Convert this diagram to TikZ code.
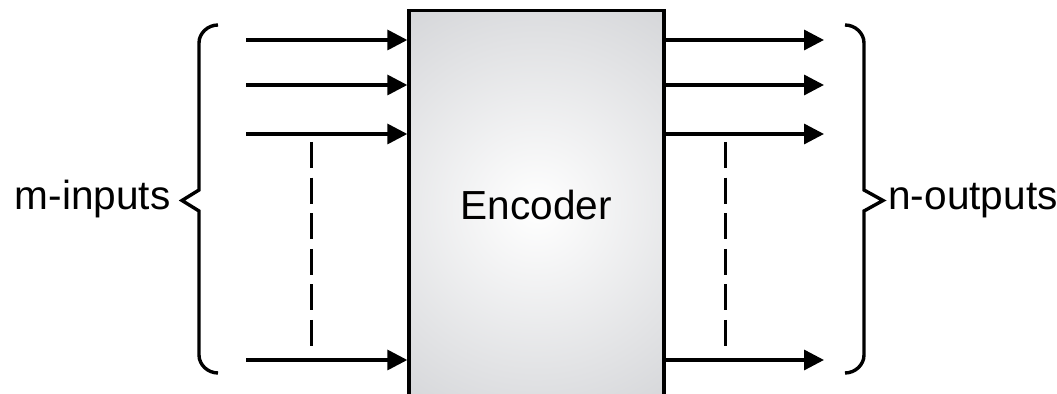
\documentclass[tikz,border=0pt]{standalone}
\usepackage{fontspec}
\setmainfont{Liberation Sans}
\usetikzlibrary{arrows.meta}

\definecolor{boxgray}{RGB}{184,186,191}

\tikzset{
  sig/.style={line width=1.7pt,-{Triangle[length=10pt,width=10pt]}},
  dots/.style={line width=1.7pt,dash pattern=on 13pt off 4.8pt},
  brace/.style={line width=1.7pt,line join=miter},
  lbl/.style={inner sep=0pt,font=\fontsize{20.3}{24}\selectfont},
  encbox/.style={draw,line width=1.7pt,inner sep=0pt,
    minimum width=127.5pt,minimum height=197.75pt,text depth=3pt,
    path picture={\shade[inner color=white,outer color=boxgray]
      (path picture bounding box.center) circle[radius=200pt];}}
}

\begin{document}
\begin{tikzpicture}[x=0.5pt,y=-0.5pt]
  \useasboundingbox (0,0) rectangle (1057,394);

  % the encoder block, runs off the bottom edge
  \node[encbox,lbl] (enc) at (536.5,208.25) {Encoder};

  % input and output lines
  \foreach \y [count=\i] in {40,85,134,360} {
    \coordinate (in\i) at (246,\y);
    \coordinate (out\i) at (824,\y);
    \draw[sig] (in\i) -- (enc.west |- in\i);
    \draw[sig] (enc.east |- out\i) -- (out\i);
  }

  % dashed continuation marks
  \draw[dots] (311.5,142) -- (311.5,346);
  \draw[dots] (725.5,142) -- (725.5,346);

  % braces
  \draw[brace] (218,25) .. controls (208,25) and (199,33) .. (199,43)
    -- (199,190) -- (182,200.5) -- (199,211) -- (199,355)
    .. controls (199,365) and (208,373) .. (218,373);
  \draw[brace] (845,25) .. controls (855,25) and (864,33) .. (864,43)
    -- (864,190) -- (883,200.5) -- (864,211) -- (864,355)
    .. controls (864,365) and (855,373) .. (845,373);

  \node[lbl,anchor=base east] (minp) at (171,210) {m-inputs};
  \node[lbl,anchor=base west] (nout) at (888,210) {n-outputs};
\end{tikzpicture}
\end{document}
